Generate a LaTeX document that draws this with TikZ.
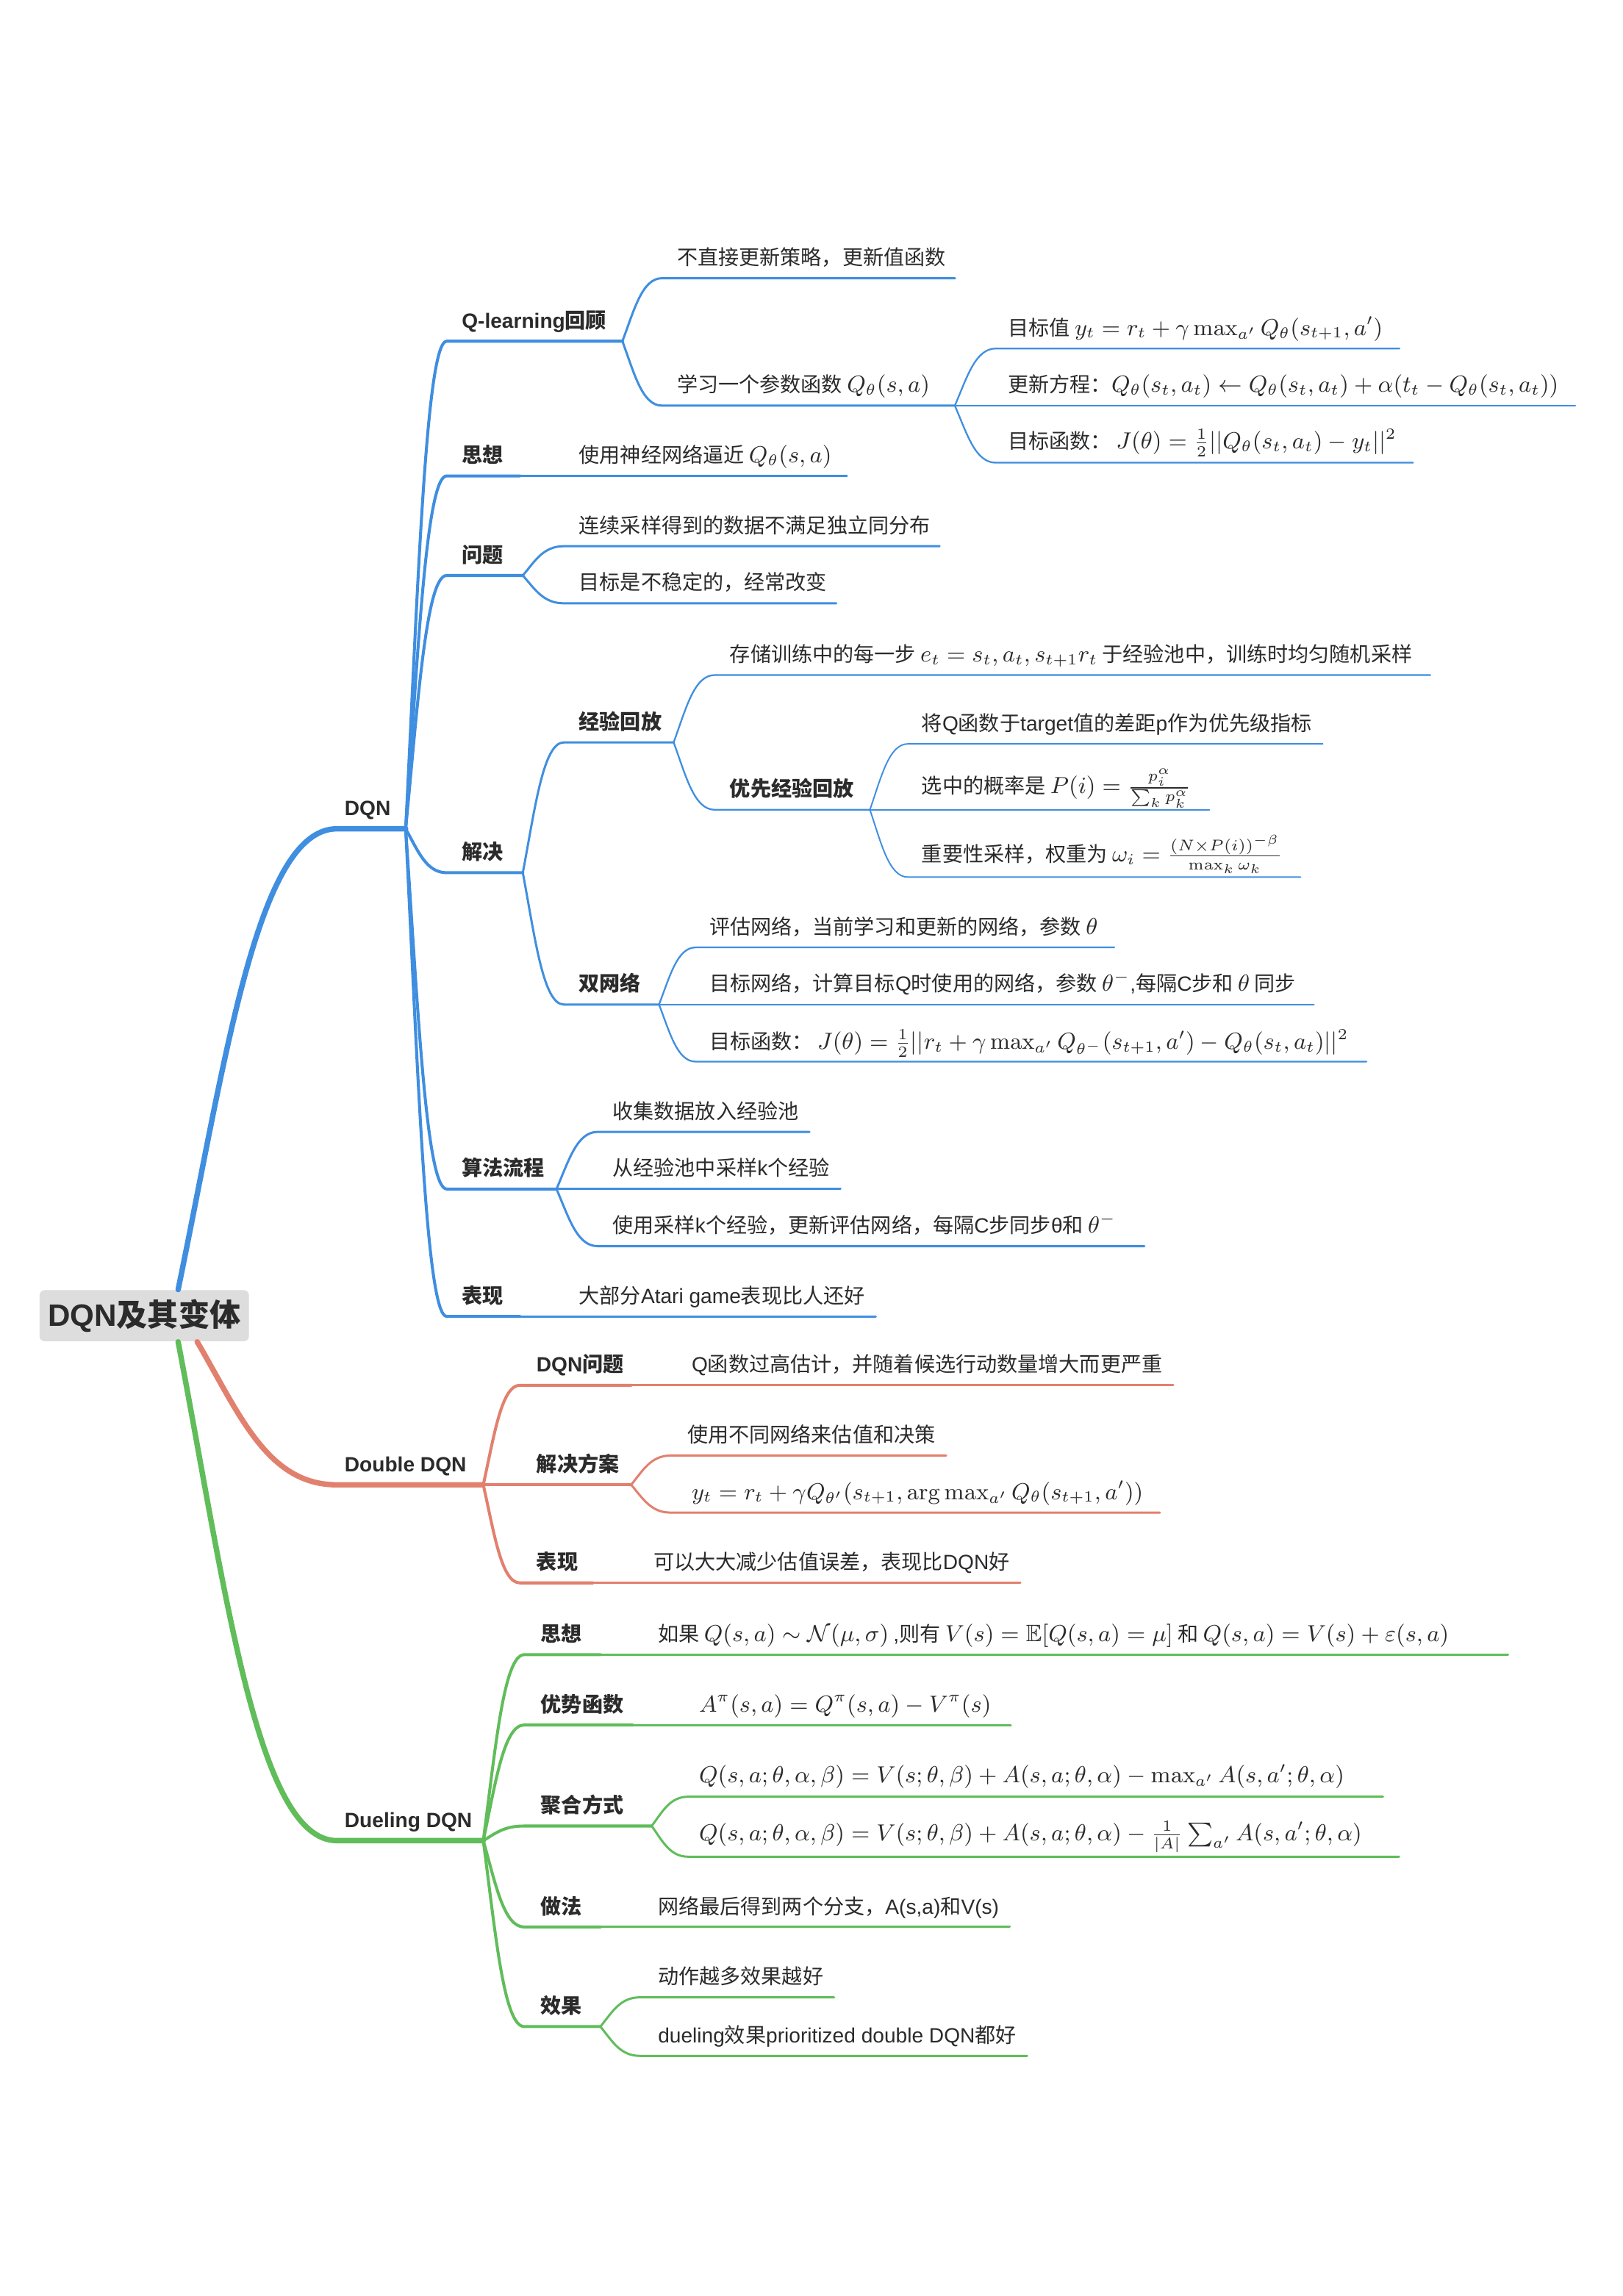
\documentclass[tikz,border=0pt]{standalone}
\usepackage{amsmath,amssymb}
\usepackage[no-math]{fontspec}
\setmainfont{Noto Sans CJK SC}
\newfontfamily\lat{Liberation Sans}
\usetikzlibrary{calc}
\definecolor{bl}{HTML}{3F8EE0}
\definecolor{rd}{HTML}{E2806E}
\definecolor{gn}{HTML}{60BD5A}
\definecolor{tc}{HTML}{2B2B2B}
\definecolor{rootfill}{HTML}{DDDDDD}
\newcommand\mth[1]{{\fontsize{9.2}{11}\selectfont$#1$}}
\tikzset{
  br/.style={to path={let \p1=(\tikztostart),\p2=(\tikztotarget) in
     .. controls ({\x1+0.3*(\x2-\x1)},{\y1+0.5*(\y2-\y1)}) and ({\x2-0.5*(\x2-\x1)},\y2) .. (\tikztotarget)}},
  w0/.style={line width=2.1pt},
  w1/.style={line width=1.15pt},
  w2/.style={line width=0.85pt},
  w3/.style={line width=0.65pt},
  w4/.style={line width=0.55pt},
  cb/.style={draw=bl, line cap=round, line join=round},
  cr/.style={draw=rd, line cap=round, line join=round},
  cg/.style={draw=gn, line cap=round, line join=round},
  txt/.style={anchor=base west, inner sep=0pt, text=tc, font=\fontsize{8}{10}\selectfont},
  lab/.style={anchor=base west, inner sep=0pt, text=tc, font=\fontsize{8}{10}\selectfont\bfseries},
  rootbox/.style={fill=rootfill, rounded corners=2pt, minimum width=81.1pt, minimum height=19.8pt, inner sep=0pt, text=tc, font=\fontsize{12}{14}\selectfont\bfseries}
}
\begin{document}
\begin{tikzpicture}[x=0.01993cm, y=-0.01993cm]
\fill[white] (0,0) rectangle (1108,1568);
\useasboundingbox (0,0) rectangle (1108,1568);

% ---------- root ----------
\node[rootbox] (root) at (98.5,898.5) {{\lat DQN}及其变体};
\coordinate (rootT) at ($(root.north west)+(95,0)$);
\coordinate (rootR) at ($(root.south west)+(108,0)$);
\coordinate (rootG) at ($(root.south west)+(95,0)$);

% ---------- coordinates: DQN ----------
\coordinate (dqnS) at (230,566); \coordinate (dqnE) at (277,566);
\coordinate (qlS) at (305,233); \coordinate (qlE) at (425,233);
\coordinate (sxS) at (305,325); \coordinate (sxE) at (355,325);
\coordinate (wtS) at (305,393); \coordinate (wtE) at (357,393);
\coordinate (jjS) at (305,596); \coordinate (jjE) at (357,596);
\coordinate (sfS) at (305,812); \coordinate (sfE) at (380,812);
\coordinate (bxS) at (305,899); \coordinate (bxE) at (355,899);
\coordinate (q1S) at (452,190);
\coordinate (q2S) at (452,277); \coordinate (q2E) at (652,277);
\coordinate (q21S) at (680,238);
\coordinate (q22S) at (680,277);
\coordinate (q23S) at (680,316);
\coordinate (wt1S) at (385,373);
\coordinate (wt2S) at (385,412);
\coordinate (jyS) at (385,507); \coordinate (jyE) at (460,507);
\coordinate (swS) at (385,686); \coordinate (swE) at (450,686);
\coordinate (jy1S) at (488,461);
\coordinate (yxS) at (488,553); \coordinate (yxE) at (594,553);
\coordinate (yx1S) at (620,508);
\coordinate (yx2S) at (620,553);
\coordinate (yx3S) at (620,599);
\coordinate (sw1S) at (475,647);
\coordinate (sw2S) at (475,686);
\coordinate (sw3S) at (475,725);
\coordinate (sf1S) at (408,773);
\coordinate (sf2S) at (408,812);
\coordinate (sf3S) at (408,851);

% ---------- coordinates: Double DQN ----------
\coordinate (ddS) at (230,1014); \coordinate (ddE) at (330,1014);
\coordinate (dwS) at (355,946); \coordinate (dwE) at (431,946);
\coordinate (djS) at (355,1014); \coordinate (djE) at (431,1014);
\coordinate (dbS) at (355,1081); \coordinate (dbE) at (405,1081);
\coordinate (dj1S) at (458,994);
\coordinate (dj2S) at (458,1033);

% ---------- coordinates: Dueling DQN ----------
\coordinate (duS) at (230,1257); \coordinate (duE) at (330,1257);
\coordinate (gsS) at (358,1130); \coordinate (gsE) at (410,1130);
\coordinate (gyS) at (358,1178); \coordinate (gyE) at (432,1178);
\coordinate (ghS) at (358,1247); \coordinate (ghE) at (445,1247);
\coordinate (gzS) at (358,1316); \coordinate (gzE) at (410,1316);
\coordinate (gxS) at (358,1384); \coordinate (gxE) at (410,1384);
\coordinate (gh1S) at (470,1227);
\coordinate (gh2S) at (470,1268);
\coordinate (gx1S) at (437,1364);
\coordinate (gx2S) at (437,1404);

% ---------- text nodes: DQN ----------
\node[lab] (dqn) at ($(dqnS)+(5,-9)$) {\lat DQN};
\node[lab] (ql) at ($(qlS)+(10,-9)$) {{\lat Q-learning}回顾};
\node[lab] (sx) at ($(sxS)+(10,-9)$) {思想};
\node[lab] (wt) at ($(wtS)+(10,-9)$) {问题};
\node[lab] (jj) at ($(jjS)+(10,-9)$) {解决};
\node[lab] (sf) at ($(sfS)+(10,-9)$) {算法流程};
\node[lab] (bx) at ($(bxS)+(10,-9)$) {表现};

\node[txt] (q1) at ($(q1S)+(10,-9)$) {不直接更新策略，更新值函数};
\node[txt] (q2) at ($(q2S)+(10,-9)$) {学习一个参数函数 \mth{Q_\theta(s,a)}};
\node[txt] (q21) at ($(q21S)+(8,-9)$) {目标值 \mth{y_t=r_t+\gamma\max_{a'}Q_\theta(s_{t+1},a')}};
\node[txt] (q22) at ($(q22S)+(8,-9)$) {更新方程：\mth{Q_\theta(s_t,a_t)\leftarrow Q_\theta(s_t,a_t)+\alpha(t_t-Q_\theta(s_t,a_t))}};
\node[txt] (q23) at ($(q23S)+(8,-9.5)$) {目标函数： \mth{J(\theta)=\frac{1}{2}||Q_\theta(s_t,a_t)-y_t||^2}};

\node[txt] (sx1) at ($(sxE)+(40,-9)$) {使用神经网络逼近 \mth{Q_\theta(s,a)}};
\node[txt] (wt1) at ($(wt1S)+(10,-9)$) {连续采样得到的数据不满足独立同分布};
\node[txt] (wt2) at ($(wt2S)+(10,-9)$) {目标是不稳定的，经常改变};

\node[lab] (jy) at ($(jyS)+(10,-9)$) {经验回放};
\node[lab] (sw) at ($(swS)+(10,-9)$) {双网络};
\node[txt] (jy1) at ($(jy1S)+(10,-9)$) {存储训练中的每一步 \mth{e_t=s_t,a_t,s_{t+1}r_t} 于经验池中，训练时均匀随机采样};
\node[lab] (yx) at ($(yxS)+(10,-9)$) {优先经验回放};
\node[txt] (yx1) at ($(yx1S)+(9,-9)$) {将{\lat Q}函数于{\lat target}值的差距{\lat p}作为优先级指标};
\node[txt] (yx2) at ($(yx2S)+(9,-11)$) {选中的概率是 \mth{P(i)=\frac{p_i^\alpha}{\sum_k p_k^\alpha}}};
\node[txt] (yx3) at ($(yx3S)+(9,-10.5)$) {重要性采样，权重为 \mth{\omega_i=\frac{(N\times P(i))^{-\beta}}{\max_k\omega_k}}};
\node[txt] (sw1) at ($(sw1S)+(9,-9)$) {评估网络，当前学习和更新的网络，参数 \mth{\theta}};
\node[txt] (sw2) at ($(sw2S)+(9,-9)$) {目标网络，计算目标{\lat Q}时使用的网络，参数 \mth{\theta^-}{\lat ,}每隔{\lat C}步和 \mth{\theta} 同步};
\node[txt] (sw3) at ($(sw3S)+(9,-8.5)$) {目标函数： \mth{J(\theta)=\frac{1}{2}||r_t+\gamma\max_{a'}Q_{\theta^-}(s_{t+1},a')-Q_\theta(s_t,a_t)||^2}};

\node[txt] (sf1) at ($(sf1S)+(10,-9)$) {收集数据放入经验池};
\node[txt] (sf2) at ($(sf2S)+(10,-9)$) {从经验池中采样{\lat k}个经验};
\node[txt] (sf3) at ($(sf3S)+(10,-9)$) {使用采样{\lat k}个经验，更新评估网络，每隔{\lat C}步同步{\lat θ}和 \mth{\theta^-}};
\node[txt] (bx1) at ($(bxE)+(40,-9)$) {大部分{\lat Atari game}表现比人还好};

% ---------- text nodes: Double DQN ----------
\node[lab] (dd) at ($(ddS)+(5,-9)$) {\lat Double DQN};
\node[lab] (dw) at ($(dwS)+(11,-9)$) {{\lat DQN}问题};
\node[lab] (dj) at ($(djS)+(11,-9)$) {解决方案};
\node[lab] (db) at ($(dbS)+(11,-9)$) {表现};
\node[txt] (dw1) at ($(dwE)+(41,-9)$) {{\lat Q}函数过高估计，并随着候选行动数量增大而更严重};
\node[txt] (dj1) at ($(dj1S)+(11,-9)$) {使用不同网络来估值和决策};
\node[txt] (dj2) at ($(dj2S)+(14,-9)$) {\mth{y_t=r_t+\gamma Q_{\theta'}(s_{t+1},\arg\max_{a'}Q_\theta(s_{t+1},a'))}};
\node[txt] (db1) at ($(dbE)+(41,-9)$) {可以大大减少估值误差，表现比{\lat DQN}好};

% ---------- text nodes: Dueling DQN ----------
\node[lab] (du) at ($(duS)+(5,-9)$) {\lat Dueling DQN};
\node[lab] (gs) at ($(gsS)+(11,-9)$) {思想};
\node[lab] (gy) at ($(gyS)+(11,-9)$) {优势函数};
\node[lab] (gh) at ($(ghS)+(11,-9)$) {聚合方式};
\node[lab] (gz) at ($(gzS)+(11,-9)$) {做法};
\node[lab] (gx) at ($(gxS)+(11,-9)$) {效果};
\node[txt] (gs1) at ($(gsE)+(39,-9)$) {如果 \mth{Q(s,a)\sim\mathcal{N}(\mu,\sigma)} {\lat ,}则有 \mth{V(s)=\mathbb{E}[Q(s,a)=\mu]} 和 \mth{Q(s,a)=V(s)+\varepsilon(s,a)}};
\node[txt] (gy1) at ($(gyE)+(45,-9)$) {\mth{A^\pi(s,a)=Q^\pi(s,a)-V^\pi(s)}};
\node[txt] (gh1) at ($(gh1S)+(7,-9.5)$) {\mth{Q(s,a;\theta,\alpha,\beta)=V(s;\theta,\beta)+A(s,a;\theta,\alpha)-\max_{a'}A(s,a';\theta,\alpha)}};
\node[txt] (gh2) at ($(gh2S)+(7,-11)$) {\mth{Q(s,a;\theta,\alpha,\beta)=V(s;\theta,\beta)+A(s,a;\theta,\alpha)-\frac{1}{|A|}\sum_{a'}A(s,a';\theta,\alpha)}};
\node[txt] (gz1) at ($(gzE)+(39,-9)$) {网络最后得到两个分支，{\lat A(s,a)}和{\lat V(s)}};
\node[txt] (gx1) at ($(gx1S)+(12,-9)$) {动作越多效果越好};
\node[txt] (gx2) at ($(gx2S)+(12,-9)$) {{\lat dueling}效果{\lat prioritized double DQN}都好};

% ---------- connectors: DQN ----------
\draw[cb,w0] (rootT) to[br] (dqnS) -- (dqnE);
\draw[cb,w1] (dqnE) to[br] (qlS) -- (qlE);
\draw[cb,w1] (dqnE) to[br] (sxS) -- (sxE);
\draw[cb,w1] (dqnE) to[br] (wtS) -- (wtE);
\draw[cb,w1] (dqnE) to[br] (jjS) -- (jjE);
\draw[cb,w1] (dqnE) to[br] (sfS) -- (sfE);
\draw[cb,w1] (dqnE) to[br] (bxS) -- (bxE);

\draw[cb,w2] (qlE) to[br] (q1S) -- (q1S -| q1.east) -- ++(6,0);
\draw[cb,w2] (qlE) to[br] (q2S) -- (q2E);
\draw[cb,w3] (q2E) to[br] (q21S) -- (q21S -| q21.east) -- ++(11,0);
\draw[cb,w3] (q2E) -- (q22S) -- (q22S -| q22.east) -- ++(11,0);
\draw[cb,w3] (q2E) to[br] (q23S) -- (q23S -| q23.east) -- ++(11,0);

\draw[cb,w2] (sxE) -- (sxE -| sx1.east) -- ++(10,0);
\draw[cb,w2] (wtE) to[br] (wt1S) -- (wt1S -| wt1.east) -- ++(6,0);
\draw[cb,w2] (wtE) to[br] (wt2S) -- (wt2S -| wt2.east) -- ++(6,0);

\draw[cb,w2] (jjE) to[br] (jyS) -- (jyE);
\draw[cb,w2] (jjE) to[br] (swS) -- (swE);
\draw[cb,w3] (jyE) to[br] (jy1S) -- (jy1S -| jy1.east) -- ++(12,0);
\draw[cb,w3] (jyE) to[br] (yxS) -- (yxE);
\draw[cb,w4] (yxE) to[br] (yx1S) -- (yx1S -| yx1.east) -- ++(7,0);
\draw[cb,w4] (yxE) -- (yx2S) -- (yx2S -| yx2.east) -- ++(12,0);
\draw[cb,w4] (yxE) to[br] (yx3S) -- (yx3S -| yx3.east) -- ++(12,0);
\draw[cb,w3] (swE) to[br] (sw1S) -- (sw1S -| sw1.east) -- ++(11,0);
\draw[cb,w3] (swE) -- (sw2S) -- (sw2S -| sw2.east) -- ++(12,0);
\draw[cb,w3] (swE) to[br] (sw3S) -- (sw3S -| sw3.east) -- ++(12,0);

\draw[cb,w2] (sfE) to[br] (sf1S) -- (sf1S -| sf1.east) -- ++(7,0);
\draw[cb,w2] (sfE) -- (sf2S) -- (sf2S -| sf2.east) -- ++(7,0);
\draw[cb,w2] (sfE) to[br] (sf3S) -- (sf3S -| sf3.east) -- ++(19,0);
\draw[cb,w2] (bxE) -- (bxE -| bx1.east) -- ++(7,0);

% ---------- connectors: Double DQN ----------
\draw[cr,w0] (rootR) to[br] (ddS) -- (ddE);
\draw[cr,w1] (ddE) to[br] (dwS) -- (dwE);
\draw[cr,w1] (ddE) -- (djS) -- (djE);
\draw[cr,w1] (ddE) to[br] (dbS) -- (dbE);
\draw[cr,w2] (dwE) -- (dwE -| dw1.east) -- ++(7,0);
\draw[cr,w2] (djE) to[br] (dj1S) -- (dj1S -| dj1.east) -- ++(7,0);
\draw[cr,w2] (djE) to[br] (dj2S) -- (dj2S -| dj2.east) -- ++(11,0);
\draw[cr,w2] (dbE) -- (dbE -| db1.east) -- ++(7,0);

% ---------- connectors: Dueling DQN ----------
\draw[cg,w0] (rootG) to[br] (duS) -- (duE);
\draw[cg,w1] (duE) to[br] (gsS) -- (gsE);
\draw[cg,w1] (duE) to[br] (gyS) -- (gyE);
\draw[cg,w1] (duE) to[br] (ghS) -- (ghE);
\draw[cg,w1] (duE) to[br] (gzS) -- (gzE);
\draw[cg,w1] (duE) to[br] (gxS) -- (gxE);
\draw[cg,w2] (gsE) -- (gsE -| gs1.east) -- ++(40,0);
\draw[cg,w2] (gyE) -- (gyE -| gy1.east) -- ++(13,0);
\draw[cg,w2] (ghE) to[br] (gh1S) -- (gh1S -| gh1.east) -- ++(26,0);
\draw[cg,w2] (ghE) to[br] (gh2S) -- (gh2S -| gh2.east) -- ++(25,0);
\draw[cg,w2] (gzE) -- (gzE -| gz1.east) -- ++(7,0);
\draw[cg,w2] (gxE) to[br] (gx1S) -- (gx1S -| gx1.east) -- ++(7,0);
\draw[cg,w2] (gxE) to[br] (gx2S) -- (gx2S -| gx2.east) -- ++(7,0);
\end{tikzpicture}
\end{document}
